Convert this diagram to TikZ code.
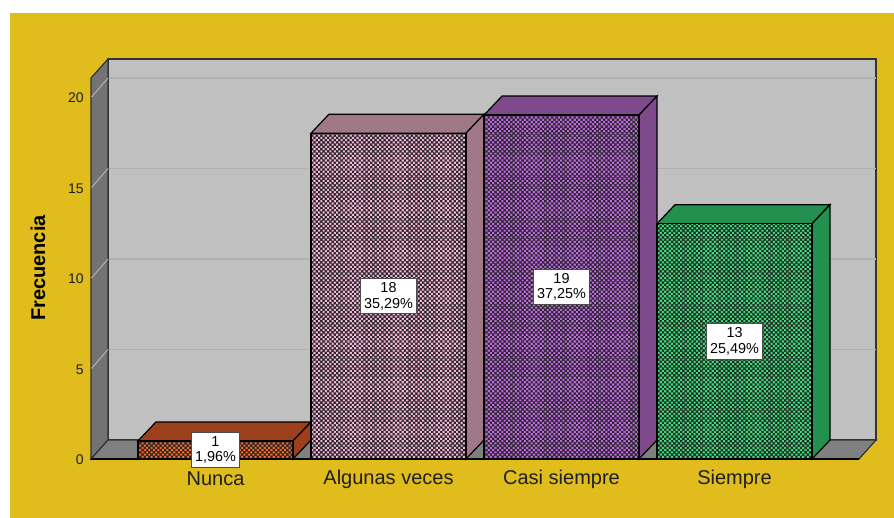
\documentclass[tikz,border=0pt]{standalone}
\usepackage{fontspec}
\setmainfont{Liberation Sans}
\usetikzlibrary{patterns.meta}

\definecolor{panel}{RGB}{224,188,28}
\definecolor{wallgray}{RGB}{192,192,192}
\definecolor{sidegray}{RGB}{115,115,115}
\definecolor{floorgray}{RGB}{128,128,128}
\definecolor{gridgray}{RGB}{176,176,176}
\definecolor{textdark}{RGB}{30,30,30}
% bar colours: dots / top+side
\definecolor{nuncaF}{RGB}{250,104,40}
\definecolor{nuncaS}{RGB}{155,64,26}
\definecolor{algunasF}{RGB}{244,180,218}
\definecolor{algunasS}{RGB}{160,120,136}
\definecolor{casiF}{RGB}{192,104,228}
\definecolor{casiS}{RGB}{126,74,140}
\definecolor{siempreF}{RGB}{56,220,120}
\definecolor{siempreS}{RGB}{35,144,80}

\begin{document}
\begin{tikzpicture}[
    x=0.5pt, y=-0.5pt,
    wallface/.style={fill=wallgray, draw=black!80, line width=0.6pt},
    sideface/.style={fill=sidegray, draw=black!80, line width=0.6pt},
    floorface/.style={fill=floorgray, draw=black!80, line width=0.6pt},
    gridback/.style={draw=gridgray, line width=0.6pt},
    gridside/.style={draw=gray!60!white, line width=0.5pt},
    ticklabel/.style={anchor=east, font=\fontsize{7}{8}\selectfont, text=textdark, inner sep=1pt},
    catlabel/.style={font=\fontsize{10}{12}\selectfont, text=textdark, inner sep=0pt},
    datalabel/.style={draw=black!70, fill=white, line width=0.5pt, align=center,
        font=\fontsize{7.2}{7.8}\selectfont, inner xsep=1.6pt, inner ysep=2pt},
    barline/.style={draw=black, line width=0.6pt},
]

% page and panel
\useasboundingbox (0,0) rectangle (894,518);
\fill[white] (0,0) rectangle (894,518);
\fill[panel] (10,13) rectangle (894,518);

% walls and floor
\path[wallface] (108,59) rectangle (876,440);
\path[sideface] (91,78) -- (108,59) -- (108,440) -- (91,459) -- cycle;
\path[floorface] (91,459) -- (108,440) -- (876,440) -- (859,459) -- cycle;

% grid lines and ticks
\foreach \v in {5,10,15,20} {
  \pgfmathsetmacro{\yf}{459-18.1*\v}
  \pgfmathsetmacro{\yb}{\yf-19}
  \draw[gridback] (108.5,\yb) -- (875.5,\yb);
  \draw[gridside] (91.5,\yf) -- (108,\yb);
}
\foreach \v in {0,5,10,15,20} {
  \pgfmathsetmacro{\yf}{459-18.1*\v}
  \node[ticklabel] (tick\v) at (86,\yf+1) {\v};
}
\draw[black, line width=1pt] (91,459) -- (859,459);

% y axis title
\node[rotate=90, font=\fontsize{10}{12}\selectfont\bfseries, text=black] (ytitle) at (38,268) {Frecuencia};

% bars
\foreach \name/\x/\v/\pct/\cat in {nunca/138/1/{1,96\%}/Nunca,
                                   algunas/311/18/{35,29\%}/Algunas veces,
                                   casi/484/19/{37,25\%}/Casi siempre,
                                   siempre/657/13/{25,49\%}/Siempre} {
  \pgfmathsetmacro{\top}{459-18.1*\v}
  \pgfmathsetmacro{\xr}{\x+155}
  % top and side
  \filldraw[barline, fill=\name S] (\x,\top) -- (\x+18,\top-19) -- (\xr+18,\top-19) -- (\xr,\top) -- cycle;
  \filldraw[barline, fill=\name S] (\xr,\top) -- (\xr+18,\top-19) -- (\xr+18,440) -- (\xr,459) -- cycle;
  % front
  \fill[black!85] (\x,\top) rectangle (\xr,459);
  \fill[pattern={Dots[distance=1.6pt, angle=45, radius=0.74pt]}, pattern color=\name F] (\x,\top) rectangle (\xr,459);
  \draw[barline] (\x,\top) rectangle (\xr,459);
  % labels
  \node[datalabel] (lab\name) at (\x+77.5,{(\top+459)/2}) {\v\\\pct};
  \node[catlabel] (cat\name) at (\x+77.5,479) {\cat};
}

\end{tikzpicture}
\end{document}
